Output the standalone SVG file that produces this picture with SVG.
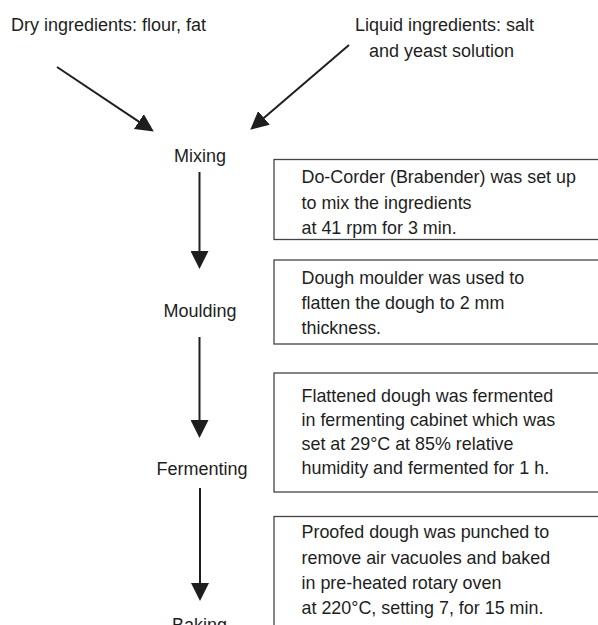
<svg xmlns="http://www.w3.org/2000/svg" width="598" height="625" viewBox="0 0 598 625">
<defs>
<style>
text{font-family:"Liberation Sans",Arial,sans-serif;fill:#1e1e1e}
.lbl{font-size:18px}
.step{font-size:18px;text-anchor:middle}
.box{font-size:17.9px}
.frame{fill:none;stroke:#444;stroke-width:1.3}
.arr{stroke:#1e1e1e;stroke-width:2;fill:none;marker-end:url(#ah)}
</style>
<marker id="ah" viewBox="0 0 18 18" refX="9" refY="9" markerWidth="18" markerHeight="18" markerUnits="userSpaceOnUse" orient="auto">
<path d="M0,0 L18,9 L0,18 Z" fill="#1e1e1e"/>
</marker>
</defs>
<rect width="598" height="625" fill="#fff"/>
<g id="dry"><text class="lbl" x="11" y="30.5">Dry ingredients: flour, fat</text></g>
<g id="liquid"><text class="lbl" x="355" y="30.5">Liquid ingredients: salt</text><text class="lbl" x="369" y="56.5">and yeast solution</text></g>
<g id="mixing"><text class="step" x="200" y="162">Mixing</text></g>
<g id="moulding"><text class="step" x="200" y="317">Moulding</text></g>
<g id="fermenting"><text class="step" x="202" y="475">Fermenting</text></g>
<g id="baking"><text class="step" x="199.5" y="631">Baking</text></g>
<g id="box1"><rect class="frame" x="274" y="159.5" width="360" height="80"/>
<text class="box" x="301.5" y="183">Do-Corder (Brabender) was set up</text>
<text class="box" x="301.5" y="208.5">to mix the ingredients</text>
<text class="box" x="301.5" y="234">at 41 rpm for 3 min.</text></g>
<g id="box2"><rect class="frame" x="274" y="260" width="360" height="84"/>
<text class="box" x="301.5" y="283.5">Dough moulder was used to</text>
<text class="box" x="301.5" y="308.5">flatten the dough to 2 mm</text>
<text class="box" x="301.5" y="333.5">thickness.</text></g>
<g id="box3"><rect class="frame" x="274" y="373" width="360" height="119"/>
<text class="box" x="301.5" y="402">Flattened dough was fermented</text>
<text class="box" x="301.5" y="426">in fermenting cabinet which was</text>
<text class="box" x="301.5" y="450">set at 29°C at 85% relative</text>
<text class="box" x="301.5" y="474">humidity and fermented for 1 h.</text></g>
<g id="box4"><rect class="frame" x="274" y="516.5" width="360" height="130"/>
<text class="box" x="301.5" y="538">Proofed dough was punched to</text>
<text class="box" x="301.5" y="563.5">remove air vacuoles and baked</text>
<text class="box" x="301.5" y="588.5">in pre-heated rotary oven</text>
<text class="box" x="301.5" y="613.5">at 220°C, setting 7, for 15 min.</text></g>
<g id="connectors">
<line class="arr" x1="57" y1="67" x2="146.3" y2="126.6"/>
<line class="arr" x1="349" y1="45" x2="257.1" y2="123.8"/>
<line class="arr" x1="199.5" y1="172" x2="199.5" y2="260"/>
<line class="arr" x1="199.5" y1="337" x2="199.5" y2="429"/>
<line class="arr" x1="200" y1="488" x2="200" y2="592"/>
</g>
</svg>
